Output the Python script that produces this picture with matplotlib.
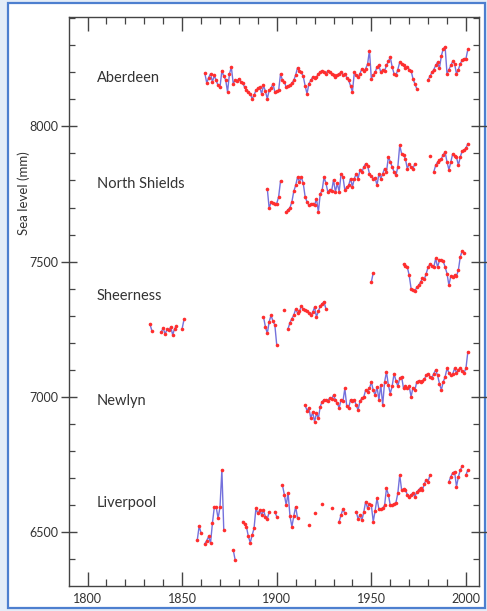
import numpy as np
import matplotlib
matplotlib.use("Agg")
import matplotlib.pyplot as plt
from matplotlib.patches import Rectangle
from matplotlib.ticker import MultipleLocator

nan = np.nan

# annual mean sea level (mm)
aberdeen_start = 1862
aberdeen = [
    8196, 8160, 8180, 8194, 8164, 8188, 8170, 8151, 8145, 8206,
    8185, 8172, 8127, 8194, 8219, 8158, 8170, 8168, 8176, 8165,
    8160, 8145, 8133, 8128, 8120, 8102, 8115, 8133, 8140, 8145,
    8120, 8151, 8130, 8102, 8133, 8140, 8158, 8127, 8130, 8133,
    8194, 8170, 8164, 8145, 8150, 8151, 8160, 8170, 8190, 8217,
    8206, 8199, 8185, 8150, 8120, 8158, 8170, 8182, 8178, 8182,
    8194, 8200, 8206, 8199, 8195, 8206, 8200, 8194, 8188, 8182,
    8190, 8194, 8200, 8190, 8195, 8180, 8170, 8150, 8127, 8199,
    8190, 8182, 8195, 8213, 8205, 8213, 8230, 8280, 8176, 8190,
    8199, 8220, 8225, 8199, 8210, 8205, 8225, 8240, 8256, 8220,
    8194, 8188, 8210, 8237, 8230, 8225, 8215, 8221, 8210, 8206,
    8176, 8158, 8139, nan, nan, nan, nan, nan, 8172, 8185,
    8199, 8210, 8225, 8237, 8215, 8260, 8287, 8293, 8194, 8210,
    8225, 8240, 8231, 8194, 8210, 8231, 8245, 8250, 8250, 8284,
]

shields_start = 1895
shields = [
    7770, 7697, 7721, 7717, 7715, 7715, 7740, 7798, nan, nan,
    7684, 7692, 7700, 7721, 7760, 7782, 7813, 7795, 7813, 7790,
    7740, 7721, 7709, 7712, 7715, 7709, 7733, 7684, 7751, 7764,
    7813, 7790, 7758, 7765, 7761, 7803, 7758, 7790, 7758, 7825,
    7813, 7764, 7775, 7782, 7807, 7777, 7807, 7825, 7807, 7838,
    7830, 7850, 7862, 7855, 7825, 7815, 7807, 7810, 7782, 7825,
    7807, 7825, 7844, 7832, 7887, 7870, 7850, 7832, 7819, 7850,
    7930, 7899, 7895, 7880, 7844, 7862, 7850, 7844, 7862, nan,
    nan, nan, nan, nan, nan, nan, 7889, nan, 7832, 7856,
    7868, 7874, 7880, 7896, 7905, 7868, 7840, 7868, 7899, 7890,
    7887, 7856, 7887, 7909, 7912, 7920, 7936,
]

sheerness_years = ([1833, 1834] + list(range(1839, 1848)) + [1850, 1851]
                   + list(range(1893, 1901)) + [1904] + list(range(1906, 1927))
                   + [1950, 1951] + list(range(1967, 2000)))
sheerness = [
    7269, 7245, 7241, 7255, 7232, 7250, 7247, 7259, 7229, 7253, 7262, 7253, 7287,
    7296, 7260, 7235, 7278, 7302, 7280, 7266, 7192, 7321,
    7253, 7275, 7290, 7302, 7325, 7310, 7317, 7336, 7325, 7320, 7317,
    7310, 7302, 7313, 7332, 7296, 7317, 7336, 7345, 7352, 7325,
    7425, 7459,
    7491, 7485, 7480, 7450, 7401, 7395, 7392, 7405, 7413, 7425,
    7438, 7435, 7456, 7480, 7491, 7485, 7480, 7512, 7480, 7505,
    7505, 7502, 7480, 7456, 7413, 7447, 7443, 7450, 7447, 7469,
    7518, 7540, 7533,
]

newlyn_start = 1915
newlyn = [
    6970, 6950, 6960, 6921, 6945, 6909, 6940, 6921, 6965, 6983,
    6990, 6989, 6985, 6997, 6993, 7007, 6990, 6977, 6960, 6990,
    6985, 7032, 6966, 6960, 6990, 6985, 6990, 6970, 6952, 6985,
    6995, 7000, 7026, 7020, 7032, 7056, 7025, 7007, 7038, 6990,
    7045, 6970, 7056, 7093, 7044, 7013, 7040, 7087, 7060, 7040,
    7069, 7075, 7032, 7040, 7032, 7040, 7001, 7035, 7025, 7056,
    7060, 7056, 7060, 7065, 7081, 7087, 7075, 7070, 7087, 7100,
    7080, 7050, 7026, 7056, 7075, 7106, 7090, 7081, 7085, 7106,
    7090, 7100, 7106, 7098, 7090, 7106, 7167,
]

liverpool_years = ([1858, 1859, 1860] + list(range(1862, 1873)) + [1877, 1878]
                   + list(range(1882, 1897)) + [1899, 1900] + list(range(1903, 1912))
                   + [1917, 1920, 1924, 1929] + list(range(1933, 1937))
                   + list(range(1942, 1982)) + list(range(1991, 1999)) + [2000, 2001])
liverpool = [
    6472, 6524, 6497,
    6458, 6470, 6485, 6460, 6534, 6593, 6593, 6552, 6593, 6731, 6509,
    6435, 6399,
    6540, 6530, 6520, 6485, 6462, 6490, 6515, 6589, 6570, 6582,
    6565, 6582, 6558, 6550, 6575,
    6577, 6558,
    6675, 6640, 6601, 6645, 6560, 6521, 6560, 6595, 6552,
    6528, 6571, 6605, 6589,
    6540, 6565, 6586, 6570,
    6577, 6550, 6565, 6545, 6575, 6614, 6590, 6605, 6600, 6540,
    6580, 6626, 6585, 6585, 6590, 6600, 6663, 6640, 6600, 6600,
    6605, 6610, 6645, 6712, 6657, 6660, 6657, 6640, 6632, 6640,
    6645, 6630, 6650, 6657, 6665, 6657, 6680, 6694, 6688, 6712,
    6687, 6706, 6720, 6724, 6669, 6705, 6730, 6745,
    6712, 6731,
]

station_names = ["Aberdeen", "North Shields", "Sheerness", "Newlyn", "Liverpool"]
label_levels = [8177, 7786, 7373, 6985, 6609]

series = [
    (np.arange(aberdeen_start, aberdeen_start + len(aberdeen)), aberdeen),
    (np.arange(shields_start, shields_start + len(shields)), shields),
    (np.array(sheerness_years), sheerness),
    (np.arange(newlyn_start, newlyn_start + len(newlyn)), newlyn),
    (np.array(liverpool_years), liverpool),
]

plt.rcParams['font.family'] = ['Lato', 'DejaVu Sans']

fig = plt.figure(figsize=(4.87, 6.11), dpi=100)
fig.patch.set_facecolor('#e4edf8')
# white panel with a blue frame, like the scanned figure (drawn behind the axes)
fig.patches.append(Rectangle((8 / 487, 3 / 611), 477 / 487, 605 / 611,
                             transform=fig.transFigure, facecolor='white',
                             edgecolor='#4d7fcf', lw=1.6, zorder=-10))

ax = fig.add_axes([69 / 487, 1 - 586 / 611, 410 / 487, 569 / 611])
ax.set_facecolor('white')

for years, vals in series:
    years = np.asarray(years, float)
    vals = np.asarray(vals, float)
    # break the line wherever a year is missing
    cut = np.where(np.diff(years) > 1)[0] + 1
    lx = np.insert(years, cut, np.nan)
    ly = np.insert(vals, cut, np.nan)
    ax.plot(lx, ly, color='#7471dc', lw=1.0, zorder=2)
    ax.plot(years, vals, 'o', color='#ff2e2e', ms=2.6, mec='none', zorder=3)

for name, lev in zip(station_names, label_levels):
    ax.text(1805, lev, name, fontsize=10.5, color='#333333', va='center', ha='left')

ax.set_xlim(1790.2, 2006.9)
ax.set_ylim(6302, 8404)
ax.xaxis.set_major_locator(MultipleLocator(50))
ax.xaxis.set_minor_locator(MultipleLocator(10))
ax.yaxis.set_major_locator(MultipleLocator(500))
ax.yaxis.set_minor_locator(MultipleLocator(100))

ax.tick_params(axis='x', which='both', direction='in', top=True, bottom=True,
               colors='#444444', labelcolor='#333333', labelsize=9, pad=5)
ax.tick_params(axis='x', which='major', length=10, width=1)
ax.tick_params(axis='x', which='minor', length=5, width=0.9)
ax.tick_params(axis='y', which='major', direction='inout', length=12, width=1,
               left=True, right=True, colors='#444444', labelcolor='#333333',
               labelsize=9, pad=2)
ax.tick_params(axis='y', which='minor', direction='in', length=4, width=0.9,
               left=True, right=True, colors='#444444')
for sp in ax.spines.values():
    sp.set_color('#444444')
    sp.set_linewidth(1.0)

ax.set_ylabel("Sea level (mm)", fontsize=9.5, color='#333333')
ax.yaxis.set_label_coords(-0.095, 0.69)

fig.savefig("out.png", dpi=100, facecolor=fig.get_facecolor())
